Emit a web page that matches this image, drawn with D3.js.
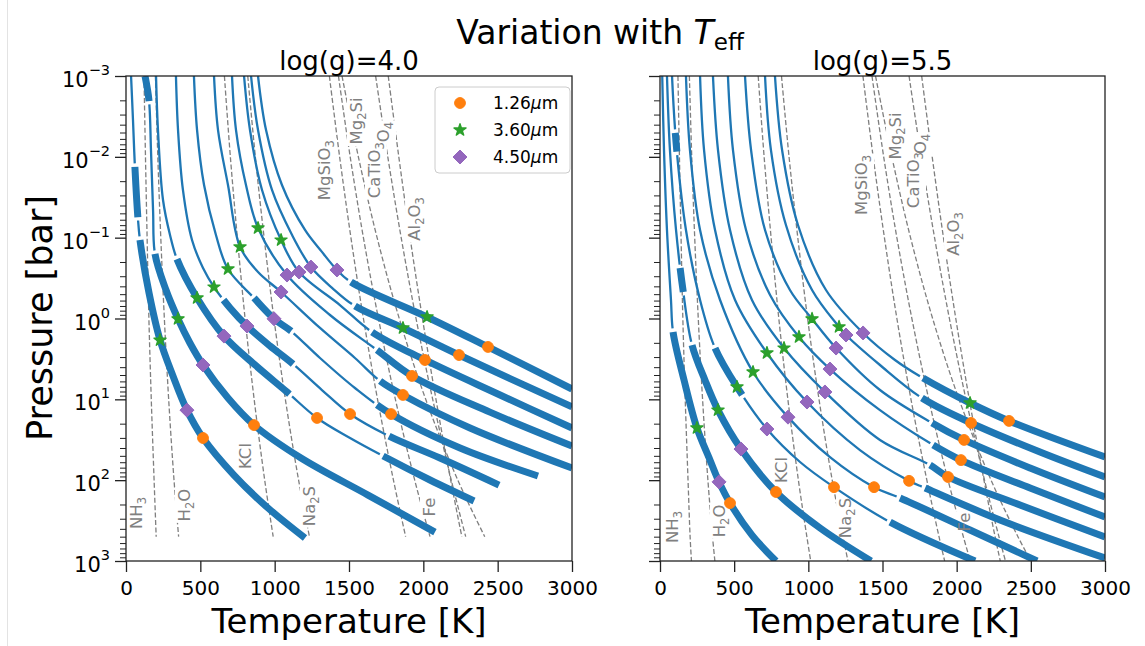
<!DOCTYPE html>
<html>
<head>
<meta charset="utf-8">
<title>Variation with Teff</title>
<script src="https://cdn.jsdelivr.net/npm/d3@7/dist/d3.min.js"></script>
<style>
  html, body { margin: 0; padding: 0; background: #fff; }
  svg { display: block; }
  text { font-family: "DejaVu Sans", "Liberation Sans", sans-serif; }
</style>
</head>
<body>
<svg id="chart" width="1145" height="646"></svg>
<script>
// ---------- axis ticks ----------
const tempTicks = [0, 500, 1000, 1500, 2000, 2500, 3000];
const pressureTicks = [1e-3, 1e-2, 1e-1, 1, 10, 100, 1000];

// ---------- condensation curves: T [K] at each pressure level [bar] ----------
const condPressure = [1e-3, 1e-2, 1e-1, 1, 10, 100, 500, 1000];
const condNH3    = [121, 131, 142, 154, 170, 189, 203, 212];
const condH2O    = [198, 214, 234, 258, 287, 323, 354, 370];
const condKCl    = [662, 702, 749, 801, 862, 933, 990, 1016];
const condNa2S   = [819, 870, 929, 995, 1072, 1161, 1234, 1267];
const condMgSiO3 = [1368, 1437, 1513, 1597, 1692, 1799, 1881, 1919];
const condMg2SiO4 = [1429, 1508, 1597, 1698, 1812, 1942, 2045, 2092];
const condFe     = [1453, 1563, 1689, 1838, 2016, 2232, 2413, 2500];
const condCaTiO3 = [1679, 1761, 1851, 1951, 2063, 2188, 2285, 2329];
const condAl2O3  = [1764, 1835, 1911, 1994, 2085, 2184, 2259, 2294];
const condDeepest = [500, 1000];   // deepest tabulated level, per gravity

// condensate labels (text uses _n for a subscript digit), anchored in T/P
const condLabelText = ["NH_3", "H_2O", "KCl", "Na_2S", "MgSiO_3", "Mg_2Si", "CaTiO_3", "O_4", "Al_2O_3", "Fe"];
const logg40LabelT = [108, 430, 841, 1271, 1372, 1587, 1708, 1769, 1978, 2078];
const logg40LabelP = [255, 203, 50.3, 209, 0.0146, 0.0036, 0.0146, 0.00493, 0.0587, 215];
const logg55LabelT = [121, 438, 856, 1288, 1396, 1625, 1746, 1793, 2016, 2090];
const logg55LabelP = [380, 320, 74.8, 294, 0.0223, 0.00552, 0.0194, 0.00693, 0.0901, 330];

// ---------- P-T profiles, log(g)=4.0 (coolest first) ----------
const logg40Temp = [
  [34, 47, 61, 81, 94, 155, 229, 316, 410, 518, 726, 955, 1204],
  [128, 155, 168, 182, 195, 269, 350, 430, 518, 686, 861, 1177, 1628, 2078],
  [202, 215, 249, 296, 343, 478, 659, 868, 1083, 1285, 1507, 1729, 2045, 2341],
  [336, 350, 383, 444, 518, 592, 700, 814, 969, 1123, 1318, 1507, 1769, 2112, 2509],
  [457, 478, 525, 605, 686, 861, 996, 1110, 1305, 1540, 1783, 2247, 2771],
  [592, 619, 686, 767, 888, 1043, 1305, 1540, 1709, 1863, 2314, 3000],
  [713, 740, 807, 888, 1083, 1372, 1688, 1924, 2448, 3000],
  [794, 834, 915, 1043, 1164, 1439, 1655, 2011, 2516, 3000],
  [841, 888, 982, 1117, 1244, 1386, 1540, 1863, 2240, 3000],
  [888, 942, 1049, 1204, 1318, 1419, 1513, 2025, 2435, 3000]
];
const logg40Pres = [
  [0.001, 0.0035, 0.0146, 0.060, 0.107, 0.484, 1.85, 5.15, 13.6, 30.1, 86.5, 221, 520],
  [0.001, 0.00204, 0.00822, 0.0454, 0.159, 0.444, 1.01, 2.01, 3.76, 9.63, 20.8, 53.2, 153, 439],
  [0.001, 0.00466, 0.0342, 0.0927, 0.184, 0.557, 1.65, 3.76, 8.11, 17.0, 30.1, 50.2, 99.5, 181],
  [0.001, 0.00466, 0.0257, 0.107, 0.237, 0.408, 0.741, 1.24, 2.19, 3.66, 7.67, 15.2, 28.5, 53.2, 115],
  [0.001, 0.00466, 0.0223, 0.0927, 0.244, 0.557, 1.01, 1.43, 3.08, 7.24, 15.2, 40.0, 88.7],
  [0.001, 0.00466, 0.0223, 0.130, 0.266, 0.470, 1.31, 3.08, 5.93, 8.83, 22.6, 70.8],
  [0.001, 0.00466, 0.0223, 0.0759, 0.290, 0.905, 2.45, 5.14, 14.4, 37.8],
  [0.001, 0.00466, 0.0257, 0.107, 0.266, 0.681, 1.47, 3.26, 8.83, 22.6],
  [0.001, 0.00466, 0.0257, 0.0927, 0.231, 0.417, 0.70, 1.31, 2.83, 12.4],
  [0.001, 0.00466, 0.0223, 0.0803, 0.150, 0.251, 0.354, 0.958, 2.25, 7.45]
];
// convective pressure ranges [bar]
const logg40Conv = [
  [[0.0133, 0.0554], [0.107, 520]],
  [[0.001, 0.00204], [0.159, 439]],
  [[0.184, 8.6], [50.2, 181]],
  [[0.59, 3.66], [28.5, 115]],
  [[0.557, 1.43], [11.7, 88.7]],
  [[5.93, 70.8]],
  [[2.45, 37.8]],
  [[1.47, 22.6]],
  [[0.70, 12.4]],
  [[0.354, 7.45]]
];
// photospheric [T, P] per band
const logg40Band126 = [[518, 30.1], [861, 20.8], [1285, 17.0], [1507, 15.2], [1783, 15.2], [1863, 8.83], [1924, 5.14], [2011, 3.26], [2240, 2.83], [2435, 2.25]];
const logg40Band360 = [[229, 1.85], [350, 1.01], [478, 0.557], [592, 0.408], [686, 0.244], [767, 0.130], [888, 0.0759], [1043, 0.107], [1863, 1.31], [2025, 0.958]];
const logg40Band450 = [[410, 13.6], [518, 3.76], [659, 1.65], [814, 1.24], [996, 1.01], [1043, 0.470], [1083, 0.290], [1164, 0.266], [1244, 0.231], [1419, 0.251]];

// ---------- P-T profiles, log(g)=5.5 ----------
const logg55Temp = [
  [15, 27, 47, 74, 88, 162, 249, 337, 398, 472, 620, 782],
  [47, 67, 108, 155, 216, 303, 391, 546, 782, 1079, 1423],
  [81, 108, 175, 270, 371, 519, 721, 944, 1173, 1551, 2124],
  [175, 202, 270, 405, 627, 863, 1146, 1443, 1618, 2090, 2542],
  [270, 297, 371, 506, 721, 991, 1348, 1679, 1787, 2292, 3000],
  [357, 391, 472, 620, 836, 1112, 1483, 1820, 1942, 2427, 3000],
  [458, 492, 580, 742, 937, 1146, 1483, 1841, 2029, 2495, 3000],
  [573, 614, 708, 876, 1025, 1187, 1483, 1834, 2050, 2495, 3000],
  [708, 748, 849, 1025, 1207, 1254, 1483, 1766, 2097, 2562, 3000],
  [775, 823, 930, 1119, 1369, 1584, 1773, 2090, 2353, 3000]
];
const logg55Pres = [
  [0.001, 0.00824, 0.0803, 0.590, 1.47, 5.77, 22.6, 56.4, 105, 192, 478, 1000],
  [0.001, 0.00824, 0.0803, 0.445, 2.13, 5.77, 13.6, 41.2, 140, 391, 1000],
  [0.001, 0.00655, 0.0803, 0.590, 2.32, 7.03, 23.3, 59.6, 122, 330, 1000],
  [0.001, 0.00824, 0.0803, 0.590, 4.59, 16.6, 51.8, 122, 166, 414, 1000],
  [0.001, 0.00824, 0.0803, 0.590, 2.67, 10.8, 42.4, 102, 125, 311, 918],
  [0.001, 0.00824, 0.0803, 0.590, 2.32, 8.11, 31.8, 65.0, 91.4, 203, 506],
  [0.001, 0.00824, 0.0803, 0.512, 1.69, 4.22, 13.6, 36.7, 56.4, 125, 286],
  [0.001, 0.00824, 0.0803, 0.444, 1.01, 2.32, 7.67, 19.6, 31.8, 70.8, 162],
  [0.001, 0.00824, 0.0697, 0.444, 1.27, 1.60, 3.76, 9.63, 19.6, 44.9, 91.4],
  [0.001, 0.00824, 0.0697, 0.444, 1.51, 3.26, 5.45, 11.1, 18.5, 51.8]
];
const logg55Conv = [
  [[1.47, 1000]],
  [[0.237, 0.471], [2.13, 1000]],
  [[0.00505, 0.00866], [2.32, 8.85], [330, 1000]],
  [[166, 1000]],
  [[125, 918]],
  [[65, 506]],
  [[36.7, 286]],
  [[19.6, 162]],
  [[9.63, 91.4]],
  [[5.45, 51.8]]
];
const logg55Band126 = [[472, 192], [782, 140], [1173, 122], [1443, 122], [1679, 102], [1942, 91.4], [2029, 56.4], [2050, 31.8], [2097, 19.6], [2353, 18.5]];
const logg55Band360 = [[249, 22.6], [391, 13.6], [519, 7.03], [627, 4.59], [721, 2.67], [836, 2.32], [937, 1.69], [1025, 1.01], [1207, 1.27], [2090, 11.1]];
const logg55Band450 = [[398, 105], [546, 41.2], [721, 23.3], [863, 16.6], [991, 10.8], [1112, 8.11], [1146, 4.22], [1187, 2.32], [1254, 1.60], [1369, 1.51]];

const bandNames = ["1.26", "3.60", "4.50"];

// ---------- drawing ----------
const BLUE = "#1f77b4", ORANGE = "#ff7f0e", GREEN = "#2ca02c", PURPLE = "#9467bd";
const TOP = 76, BOTTOM = 561;
const condCurves = [condNH3, condH2O, condKCl, condNa2S, condMgSiO3, condMg2SiO4, condFe, condCaTiO3, condAl2O3];

const svg = d3.select("#chart");
svg.append("rect").attr("width", 1145).attr("height", 646).attr("fill", "#fff");
svg.append("line").attr("x1", 7.5).attr("x2", 7.5).attr("y1", 0).attr("y2", 646)
  .attr("stroke", "#e3e3e3").attr("stroke-width", 1);

const starPath = d3.symbol(d3.symbolStar, 46)();
const diamondPath = "M0,-7L7,0L0,7L-7,0Z";

function drawMarker(sel, kind) {
  if (kind === 0) return sel.append("circle").attr("r", 5.4).attr("fill", ORANGE).attr("stroke", ORANGE).attr("stroke-width", 1);
  if (kind === 1) return sel.append("path").attr("d", starPath).attr("fill", GREEN).attr("stroke", GREEN).attr("stroke-width", 1.3).attr("stroke-linejoin", "round");
  return sel.append("path").attr("d", diamondPath).attr("fill", PURPLE).attr("stroke", PURPLE).attr("stroke-width", 1);
}

// rich text: "_d" turns the next character into a subscript
function addRich(textSel, str, subSize) {
  const parts = str.split(/(_.)/).filter(s => s.length);
  let shifted = false;
  parts.forEach(p => {
    if (p[0] === "_") {
      textSel.append("tspan").attr("font-size", subSize).attr("dy", shifted ? 0 : 4).text(p[1]);
      shifted = true;
    } else {
      textSel.append("tspan").attr("dy", shifted ? -4 : 0).text(p);
      shifted = false;
    }
  });
}

function lengthAtY(node, total, yTarget) {
  let lo = 0, hi = total;
  for (let i = 0; i < 40; i++) {
    const mid = (lo + hi) / 2;
    if (node.getPointAtLength(mid).y < yTarget) lo = mid; else hi = mid;
  }
  return (lo + hi) / 2;
}

function dashFor(intervals, total) {
  const arr = [0];
  let pos = 0;
  intervals.forEach(([a, b]) => { arr.push(a - pos, b - a); pos = b; });
  arr.push(total - pos + 20);
  return arr.join(",");
}

function drawPanel(cfg) {
  const x = d3.scaleLinear().domain([0, 3000]).range([cfg.x0, cfg.x1]);
  const y = d3.scaleLog().domain([1e-3, 1e3]).range([TOP, BOTTOM]);
  const g = svg.append("g");

  const clipId = "clip-" + cfg.id;
  svg.append("clipPath").attr("id", clipId).append("rect")
    .attr("x", cfg.x0).attr("y", TOP).attr("width", cfg.x1 - cfg.x0).attr("height", BOTTOM - TOP);
  const plot = g.append("g").attr("clip-path", `url(#${clipId})`);

  const line = d3.line().x(d => x(d[0])).y(d => y(d[1])).curve(d3.curveCatmullRom.alpha(0.5));

  // condensation curves
  condCurves.forEach(c => {
    const pts = condPressure.map((p, i) => [c[i], p]).filter(d => d[1] <= cfg.condMax);
    plot.append("path").attr("d", line(pts)).attr("fill", "none")
      .attr("stroke", "#7f7f7f").attr("stroke-width", 1.3).attr("stroke-dasharray", "5,2.4");
  });

  // white boxes behind condensate labels (they hide the dashed curves only)
  const boxLayer = plot.append("g");

  // profiles: thin = radiative, thick = convective
  const profLayer = plot.append("g");
  cfg.temps.forEach((temps, k) => {
    const pts = temps.map((T, i) => [T, cfg.pres[k][i]]);
    const d = line(pts);
    const thin = profLayer.append("path").attr("d", d).attr("fill", "none")
      .attr("stroke", BLUE).attr("stroke-width", 2.3).attr("stroke-linecap", "butt");
    const node = thin.node();
    const total = node.getTotalLength();
    const conv = cfg.conv[k].map(([p0, p1]) => [
      Math.max(0, lengthAtY(node, total, y(p0))),
      Math.min(total, lengthAtY(node, total, y(p1)))
    ]);
    const gap = 3.5;
    const rad = [];
    let start = 0;
    conv.forEach(([a, b]) => {
      if (a - gap > start) rad.push([start, a - gap]);
      start = b + gap;
    });
    if (start < total) rad.push([start, total]);
    thin.attr("stroke-dasharray", dashFor(rad, total));
    profLayer.append("path").attr("d", d).attr("fill", "none")
      .attr("stroke", BLUE).attr("stroke-width", 7).attr("stroke-linecap", "butt")
      .attr("stroke-dasharray", dashFor(conv, total));
  });

  // condensate label text
  const labLayer = plot.append("g");
  condLabelText.forEach((s, i) => {
    const lx = x(cfg.labelT[i]), ly = y(cfg.labelP[i]);
    const lg = labLayer.append("g").attr("transform", `translate(${lx},${ly}) rotate(-90)`);
    const t = lg.append("text").attr("text-anchor", "middle").attr("dy", "0.36em")
      .attr("font-size", 16.5).attr("fill", "#808080");
    addRich(t, s, 11.5);
    const bb = t.node().getBBox();
    boxLayer.append("rect").attr("transform", `translate(${lx},${ly}) rotate(-90)`)
      .attr("x", bb.x - 1.5).attr("y", bb.y).attr("width", bb.width + 3).attr("height", bb.height)
      .attr("fill", "#fff");
  });

  // photospheric markers
  cfg.bands.forEach((band, kind) => {
    band.forEach(([T, P]) => {
      const m = plot.append("g").attr("transform", `translate(${x(T)},${y(P)})`);
      drawMarker(m, kind);
    });
  });

  // x axis
  g.append("g").attr("transform", `translate(0,${BOTTOM})`)
    .call(d3.axisBottom(x).tickValues(tempTicks).tickSize(11).tickPadding(9).tickFormat(d3.format("d")))
    .call(a => {
      a.attr("font-family", "DejaVu Sans").attr("font-size", 20);
      a.select(".domain").remove();
      a.selectAll("line").attr("stroke", "#222").attr("stroke-width", 1.3);
      a.selectAll("text").attr("fill", "#000");
    });

  // y axis: major + minor ticks
  const minorTicks = [];
  for (let e = -3; e < 3; e++) for (let m = 2; m < 10; m++) minorTicks.push(m * Math.pow(10, e));
  g.append("g").attr("transform", `translate(${cfg.x0},0)`)
    .call(d3.axisLeft(y).tickValues(minorTicks).tickSize(6).tickFormat(""))
    .call(a => { a.select(".domain").remove(); a.selectAll("line").attr("stroke", "#222").attr("stroke-width", 1); });
  g.append("g").attr("transform", `translate(${cfg.x0},0)`)
    .call(d3.axisLeft(y).tickValues(pressureTicks).tickSize(11).tickFormat(""))
    .call(a => { a.select(".domain").remove(); a.selectAll("line").attr("stroke", "#222").attr("stroke-width", 1.3); });

  if (cfg.yLabels) {
    pressureTicks.forEach(p => {
      const e = Math.round(Math.log10(p));
      const t = g.append("text").attr("x", cfg.x0 - 16).attr("y", y(p) + 11)
        .attr("text-anchor", "end").attr("font-size", 21).attr("fill", "#000");
      t.append("tspan").text("10");
      t.append("tspan").attr("font-size", 14.5).attr("dy", -12).text(e < 0 ? "\u2212" + (-e) : String(e));
    });
  }

  // frame
  g.append("rect").attr("x", cfg.x0).attr("y", TOP).attr("width", cfg.x1 - cfg.x0).attr("height", BOTTOM - TOP)
    .attr("fill", "none").attr("stroke", "#222").attr("stroke-width", 1.3);

  // panel title and x label
  g.append("text").attr("x", (cfg.x0 + cfg.x1) / 2).attr("y", 70).attr("text-anchor", "middle")
    .attr("font-size", 26).attr("fill", "#000").text(cfg.title);
  g.append("text").attr("x", (cfg.x0 + cfg.x1) / 2).attr("y", 633).attr("text-anchor", "middle")
    .attr("font-size", 34).attr("fill", "#000").text("Temperature [K]");

  if (cfg.legend) {
    const lg = g.append("g");
    lg.append("rect").attr("x", 435).attr("y", 87).attr("width", 135).attr("height", 86).attr("rx", 4)
      .attr("fill", "#fff").attr("fill-opacity", 0.8).attr("stroke", "#cccccc").attr("stroke-width", 1);
    bandNames.forEach((nm, i) => {
      const yy = 103 + i * 27;
      drawMarker(lg.append("g").attr("transform", `translate(460,${yy})`), i);
      const t = lg.append("text").attr("x", 493).attr("y", yy + 6).attr("font-size", 17).attr("fill", "#000");
      t.append("tspan").text(nm);
      t.append("tspan").attr("font-style", "italic").text("\u03bc");
      t.append("tspan").text("m");
    });
  }
}

drawPanel({ id: "g40", x0: 126, x1: 572, title: "log(g)=4.0", temps: logg40Temp, pres: logg40Pres,
  conv: logg40Conv, bands: [logg40Band126, logg40Band360, logg40Band450], condMax: condDeepest[0],
  labelT: logg40LabelT, labelP: logg40LabelP, yLabels: true, legend: true });
drawPanel({ id: "g55", x0: 660, x1: 1105, title: "log(g)=5.5", temps: logg55Temp, pres: logg55Pres,
  conv: logg55Conv, bands: [logg55Band126, logg55Band360, logg55Band450], condMax: condDeepest[1],
  labelT: logg55LabelT, labelP: logg55LabelP, yLabels: false, legend: false });

// figure title and shared y label
const title = svg.append("text").attr("x", 600).attr("y", 44).attr("text-anchor", "middle")
  .attr("font-size", 33).attr("fill", "#000");
title.append("tspan").text("Variation with ");
title.append("tspan").attr("font-style", "italic").text("T");
title.append("tspan").attr("font-size", 23).attr("dy", 6).text("eff");

svg.append("text").attr("transform", "translate(52,318) rotate(-90)").attr("text-anchor", "middle")
  .attr("font-size", 35).attr("fill", "#000").text("Pressure [bar]");
</script>
</body>
</html>
